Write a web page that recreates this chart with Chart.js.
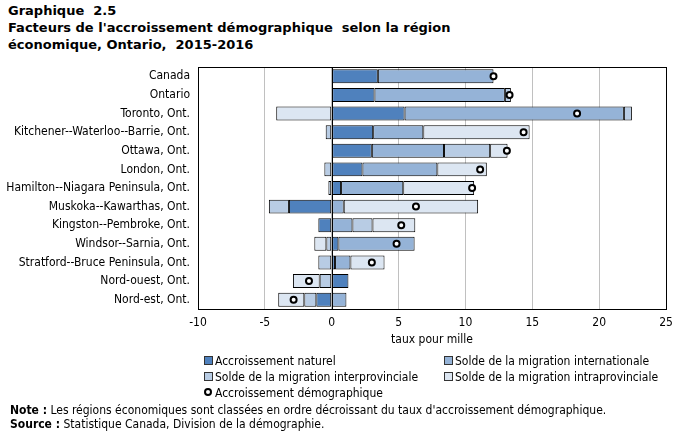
<!DOCTYPE html>
<html>
<head>
<meta charset="utf-8">
<script src="https://cdn.jsdelivr.net/npm/chart.js@4.4.1/dist/chart.umd.min.js"></script>
<style>
  html, body { margin: 0; padding: 0; background: #fff; }
  body { width: 681px; height: 436px; position: relative; overflow: hidden; font-family: "DejaVu Sans Condensed", "DejaVu Sans", sans-serif; color: #000; }
  #c { position: absolute; left: 0; top: 0; }
  .title { position: absolute; left: 8px; top: 2px; font-family: "DejaVu Sans", sans-serif; font-weight: bold; font-size: 13px; line-height: 17px; }
  .leg { position: absolute; font-size: 12px; line-height: 14px; white-space: nowrap; }
  .sw { display: inline-block; width: 7px; height: 7px; border: 1px solid #333; margin-right: 2px; vertical-align: 0px; }
  .dot { display: inline-block; width: 4px; height: 4px; border: 2px solid #000; border-radius: 50%; background: #fff; margin-right: 3px; vertical-align: 1px; }
  .foot { position: absolute; left: 10px; font-size: 12px; line-height: 14px; white-space: nowrap; }
</style>
</head>
<body>
<div class="title">Graphique&nbsp; 2.5<br>Facteurs de l'accroissement démographique&nbsp; selon la région<br>économique, Ontario,&nbsp; 2015-2016</div>
<canvas id="c" width="681" height="436"></canvas>
<div id="legend"></div>
<div class="foot" style="top:403px"><b>Note :</b> Les régions économiques sont classées en ordre décroissant du taux d'accroissement démographique.</div>
<div class="foot" style="top:417px"><b>Source :</b> Statistique Canada, Division de la démographie.</div>
<script>
const categories = ["Canada", "Ontario", "Toronto, Ont.", "Kitchener--Waterloo--Barrie, Ont.", "Ottawa, Ont.", "London, Ont.", "Hamilton--Niagara Peninsula, Ont.", "Muskoka--Kawarthas, Ont.", "Kingston--Pembroke, Ont.", "Windsor--Sarnia, Ont.", "Stratford--Bruce Peninsula, Ont.", "Nord-ouest, Ont.", "Nord-est, Ont."];
const seriesNames = ["Accroissement naturel", "Solde de la migration internationale", "Solde de la migration interprovinciale", "Solde de la migration intraprovinciale", "Accroissement démographique"];
const naturel = [3.45, 3.2, 5.45, 3.1, 3.0, 2.3, 0.7, -3.2, -1.0, 0.5, 0.25, 1.25, -1.15];
const international = [8.65, 9.75, 16.4, 3.75, 5.4, 5.6, 4.65, 0.9, 1.55, 5.7, 1.15, 0, 1.1];
const interprovincial = [0, 0.45, 0.6, -0.45, 3.45, -0.55, -0.25, -1.5, 1.5, -0.4, -1.0, -0.9, -0.9];
const intraprovincial = [0, 0, -4.15, 7.95, 1.3, 3.7, 5.3, 10.05, 3.2, -0.9, 2.55, -2.0, -1.95];
const accroissement = [12.1, 13.3, 18.35, 14.35, 13.1, 11.1, 10.5, 6.3, 5.2, 4.85, 3.0, -1.7, -2.85];
const xTicks = [-10, -5, 0, 5, 10, 15, 20, 25];

const colors = ["#4f81bd", "#95b3d7", "#b8cce4", "#dce6f2"];
const FONT = '"DejaVu Sans Condensed", "DejaVu Sans", sans-serif';

// legend (HTML)
const legPos = [[204, 354], [444, 354], [204, 370], [444, 370], [204, 386]];
const legEl = document.getElementById('legend');
seriesNames.forEach((name, i) => {
  const d = document.createElement('div');
  d.className = 'leg';
  d.style.left = legPos[i][0] + 'px';
  d.style.top = legPos[i][1] + 'px';
  const m = document.createElement('span');
  if (i < 4) { m.className = 'sw'; m.style.background = colors[i]; }
  else { m.className = 'dot'; }
  d.appendChild(m);
  d.appendChild(document.createTextNode(name));
  legEl.appendChild(d);
});

const frame = {
  id: 'frame',
  afterDatasetsDraw(chart) {
    const { ctx, chartArea: a, scales } = chart;
    const x0 = Math.round(scales.x.getPixelForValue(0)) + 0.5;
    ctx.save();
    ctx.strokeStyle = '#000';
    ctx.lineWidth = 1;
    ctx.beginPath();
    ctx.moveTo(x0, a.top);
    ctx.lineTo(x0, a.bottom);
    ctx.stroke();
    ctx.restore();
  },
  afterDraw(chart) {
    const { ctx, chartArea: a } = chart;
    ctx.save();
    ctx.strokeStyle = '#000';
    ctx.lineWidth = 1;
    ctx.strokeRect(Math.round(a.left) + 0.5, Math.round(a.top) + 0.5, Math.round(a.right - a.left), Math.round(a.bottom - a.top));
    ctx.restore();
  }
};

const barDs = [naturel, international, interprovincial, intraprovincial].map((arr, i) => ({
  type: 'bar',
  label: seriesNames[i],
  data: arr,
  backgroundColor: colors[i],
  borderColor: '#000',
  borderWidth: 1,
  borderSkipped: false,
  barPercentage: 0.75,
  categoryPercentage: 1,
  stack: 'bars'
}));

new Chart(document.getElementById('c'), {
  data: {
    labels: categories,
    datasets: [...barDs, {
      type: 'line',
      label: seriesNames[4],
      data: accroissement,
      indexAxis: 'y',
      showLine: false,
      pointRadius: 3,
      pointHoverRadius: 3,
      pointBorderWidth: 2,
      pointBackgroundColor: '#fff',
      pointBorderColor: '#000',
      stack: 'total',
      order: -1
    }]
  },
  options: {
    indexAxis: 'y',
    responsive: false,
    animation: false,
    devicePixelRatio: 1,
    layout: { padding: { left: 0, top: 67, right: 15, bottom: 89 } },
    plugins: { legend: { display: false }, tooltip: { enabled: false }, title: { display: false } },
    scales: {
      x: {
        stacked: true,
        min: -10, max: 25,
        afterBuildTicks(scale) { scale.ticks = xTicks.map(v => ({ value: v })); },
        afterFit(scale) { scale.height = 38; },
        grid: { color: '#c0c0c0', lineWidth: 1, drawTicks: false },
        border: { display: false },
        ticks: { color: '#000', font: { family: FONT, size: 12 }, padding: 7, maxRotation: 0 },
        title: { display: true, text: 'taux pour mille', color: '#000', font: { family: FONT, size: 12 }, padding: { top: 0, bottom: 0 } }
      },
      y: {
        stacked: true,
        afterFit(scale) { scale.width = 198; },
        grid: { display: false, drawTicks: false },
        border: { display: false },
        ticks: { color: '#000', font: { family: FONT, size: 12 }, padding: 8, autoSkip: false }
      }
    }
  },
  plugins: [frame]
});
</script>
</body>
</html>
